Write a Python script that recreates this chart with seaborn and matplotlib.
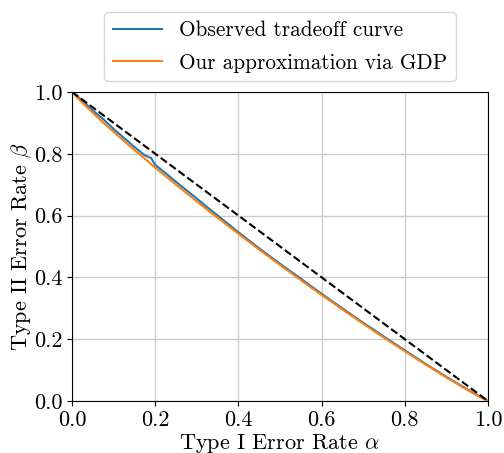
import matplotlib
matplotlib.use("Agg")
import matplotlib.pyplot as plt
import seaborn as sns
import pandas as pd

# Type I error rate grid (alpha) for the GDP approximation
alpha_gdp = [0.0, 0.01, 0.025, 0.05, 0.075, 0.10, 0.125, 0.15, 0.175, 0.20, 0.225, 0.25,
             0.275, 0.30, 0.325, 0.35, 0.375, 0.40, 0.425, 0.45, 0.475, 0.50, 0.525, 0.55,
             0.575, 0.60, 0.625, 0.65, 0.675, 0.70, 0.725, 0.75, 0.775, 0.80, 0.825, 0.85,
             0.875, 0.90, 0.925, 0.95, 0.975, 1.0]
# Our approximation via GDP (beta)
beta_gdp = [1.0, 0.985, 0.965, 0.9325, 0.901, 0.871, 0.841, 0.812, 0.784, 0.755, 0.7275, 0.700,
            0.673, 0.646, 0.619, 0.593, 0.567, 0.541, 0.5156, 0.490, 0.465, 0.440, 0.416, 0.391,
            0.367, 0.343, 0.320, 0.296, 0.273, 0.250, 0.227, 0.205, 0.183, 0.161, 0.139, 0.118,
            0.097, 0.076, 0.056, 0.036, 0.017, 0.0]

# Observed tradeoff curve
alpha_obs = [0.0, 0.025, 0.05, 0.075, 0.10, 0.125, 0.15, 0.175, 0.19, 0.20, 0.225, 0.25,
             0.275, 0.30, 0.325, 0.35, 0.375, 0.40, 0.425, 0.45, 0.475, 0.50, 0.525, 0.55,
             0.575, 0.60, 0.625, 0.65, 0.675, 0.70, 0.725, 0.75, 0.775, 0.80, 0.825, 0.85,
             0.875, 0.90, 0.925, 0.95, 0.975, 1.0]
beta_obs = [1.0, 0.972, 0.940, 0.912, 0.880, 0.851, 0.822, 0.795, 0.786, 0.764, 0.737, 0.709,
            0.682, 0.655, 0.627, 0.600, 0.573, 0.546, 0.520, 0.494, 0.469, 0.444, 0.420, 0.396,
            0.371, 0.347, 0.323, 0.300, 0.276, 0.253, 0.231, 0.208, 0.186, 0.164, 0.142, 0.120,
            0.099, 0.078, 0.058, 0.038, 0.018, 0.0]

diag_x = [0.0, 1.0]
diag_y = [1.0, 0.0]

legend_labels = ["Observed tradeoff curve", "Our approximation via GDP"]
x_label = r"Type I Error Rate $\alpha$"
y_label = r"Type II Error Rate $\beta$"
ticks = [0.0, 0.2, 0.4, 0.6, 0.8, 1.0]

plt.rcParams.update({
    "font.family": "serif",
    "font.serif": ["cmr10"],
    "mathtext.fontset": "cm",
    "axes.formatter.use_mathtext": True,
    "axes.unicode_minus": False,
})

fig = plt.figure(figsize=(5.04, 4.53), dpi=100)
ax = fig.add_axes([0.1429, 0.1148, 0.8254, 0.6822])

df_obs = pd.DataFrame({"a": alpha_obs, "b": beta_obs})
df_gdp = pd.DataFrame({"a": alpha_gdp, "b": beta_gdp})
sns.lineplot(data=df_obs, x="a", y="b", ax=ax, color="#1f77b4", lw=1.5,
             label=legend_labels[0], estimator=None, sort=False)
sns.lineplot(data=df_gdp, x="a", y="b", ax=ax, color="#ff7f0e", lw=1.5,
             label=legend_labels[1], estimator=None, sort=False)
ax.plot(diag_x, diag_y, "k--", lw=1.5)

ax.set_xlim(0, 1)
ax.set_ylim(0, 1)
ax.set_xticks(ticks)
ax.set_yticks(ticks)
ax.set_xticklabels([f"{t:.1f}" for t in ticks])
ax.set_yticklabels([f"{t:.1f}" for t in ticks])
ax.tick_params(labelsize=16)
ax.grid(True, color="#cccccc", lw=1)
ax.set_axisbelow(True)
ax.set_xlabel(x_label, fontsize=16, labelpad=1)
ax.set_ylabel(y_label, fontsize=16, labelpad=0)
ax.legend(loc="lower center", bbox_to_anchor=(0.5, 1.035), borderaxespad=0,
          fontsize=15.3, frameon=True, handlelength=2.3, labelspacing=0.6)

fig.savefig("out.png", dpi=100)
